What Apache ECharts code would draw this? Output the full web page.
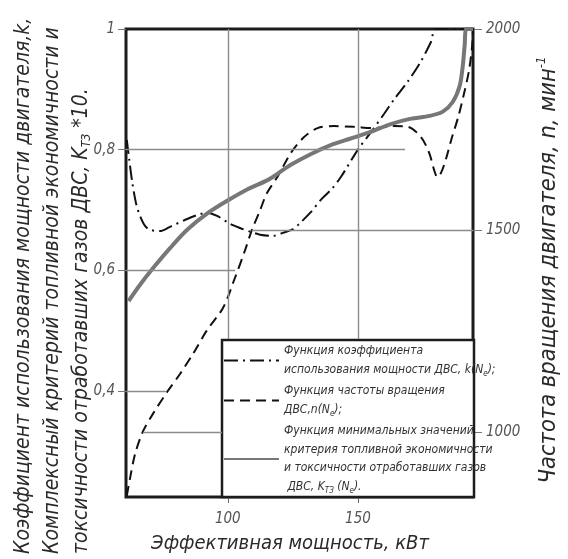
<!DOCTYPE html>
<html>
<head>
<meta charset="utf-8">
<script src="https://cdn.jsdelivr.net/npm/echarts@6/dist/echarts.min.js"></script>
<style>html,body{margin:0;padding:0;background:#fff}#c{width:568px;height:559px}</style>
</head>
<body>
<div id="c"></div>
<script>
// ---- data ----
const xTicks = [100, 150];
const leftTicks = [0.4, 0.6, 0.8, 1];
const rightTicks = [1000, 1500, 2000];
const xRange = [60.9, 194.2];
const leftRange = [0.224, 1];
const rightRange = [838, 2000];

// k(Ne) – power utilisation coefficient (left axis)
const kX = [61.2, 62.1, 63.3, 64.8, 66.3, 68.3, 70.2, 74, 77.8, 84.4, 89.4, 92.4, 95.9, 100.9, 104.7, 108.6, 112.4, 117.4, 121.2, 125.1, 127.7, 131.6, 136, 140, 143.5, 150, 155, 160, 164, 169, 174, 178, 180, 194.2];
const kY = [0.816, 0.785, 0.746, 0.71, 0.69, 0.673, 0.667, 0.665, 0.672, 0.685, 0.693, 0.695, 0.69, 0.677, 0.67, 0.664, 0.659, 0.657, 0.662, 0.668, 0.678, 0.695, 0.718, 0.735, 0.755, 0.8, 0.829, 0.859, 0.884, 0.912, 0.945, 0.978, 1.0, 1.0];

// n(Ne) – engine speed, rpm (right axis)
const nX = [61.2, 62.5, 64.4, 67.5, 71.3, 76.6, 81.7, 86.7, 91.9, 98.2, 102.8, 106.6, 109.2, 112.4, 115, 119.1, 124.2, 129.2, 134.5, 140.8, 148.5, 156.2, 163.9, 169.3, 174.3, 177.4, 179.3, 180.5, 182, 183.9, 185.8, 188.5, 190.8, 192.7, 193.9, 194.2];
const nY = [841, 886, 945, 1002, 1045, 1098, 1144, 1194, 1251, 1308, 1383, 1450, 1500, 1550, 1592, 1633, 1692, 1731, 1754, 1759, 1757, 1754, 1759, 1757, 1731, 1692, 1649, 1632, 1644, 1679, 1724, 1781, 1841, 1898, 1960, 2000];

// K_T3(Ne) – complex criterion *10 (left axis)
const ktX = [61.9, 66.3, 71.4, 77.9, 84.4, 92.4, 100.1, 107.4, 115.1, 118.8, 123.9, 131.6, 139.3, 146.9, 154.6, 162.3, 170, 177.6, 182.6, 186.4, 189.1, 190.3, 191, 191.7, 194.2];
const ktY = [0.549, 0.576, 0.604, 0.637, 0.667, 0.695, 0.716, 0.734, 0.749, 0.759, 0.774, 0.792, 0.807, 0.818, 0.829, 0.842, 0.851, 0.856, 0.863, 0.879, 0.906, 0.94, 0.973, 1.0, 1.0];

// reading guide lines [x1, y1, x2, y2]
const leftGuides = [[60.9, 0.8, 168.1, 0.8], [60.9, 0.6, 102.8, 0.6], [60.9, 0.4, 76.2, 0.4], [100, 1, 100, 0.486], [150, 1, 150, 0.486]];
const rightGuides = [[109.2, 1500, 194.2, 1500], [67.5, 1000, 97.8, 1000]];

const seriesNames = [
  'Функция коэффициента\nиспользования мощности ДВС, k(N{sub|e});',
  'Функция частоты вращения\nДВС,n(N{sub|e});',
  'Функция минимальных значений\nкритерия топливной экономичности\nи токсичности отработавших газов\n ДВС, K{sub|ТЗ} (N{sub|e}).'
];

const FONT = '"DejaVu Sans Condensed", "Liberation Sans Narrow", sans-serif';
const zip = (a, b) => a.map((v, i) => [v, b[i]]);
const guideData = g => g.map(s => [{coord: [s[0], s[1]]}, {coord: [s[2], s[3]]}]);
const fmt = v => (v === 1 ? '1' : String(v).replace('.', ','));
const guideStyle = {symbol: 'none', silent: true, animation: false, label: {show: false},
  lineStyle: {color: '#8c8c8c', width: 1.4, type: 'solid'}, emphasis: {disabled: true}};
const tickFont = {color: '#555', fontFamily: FONT, fontStyle: 'italic', fontSize: 15};

const chart = echarts.init(document.getElementById('c'), null, {renderer: 'canvas'});
chart.setOption({
  animation: false,
  backgroundColor: '#fff',
  grid: {left: 126, top: 29, right: 95, bottom: 62, show: true, borderColor: '#1c1c1c', borderWidth: 3},
  xAxis: {
    type: 'value', min: xRange[0], max: xRange[1],
    axisLine: {show: false}, splitLine: {show: false},
    axisTick: {show: true, customValues: xTicks, length: 6, lineStyle: {color: '#666'}},
    axisLabel: Object.assign({customValues: xTicks, margin: 15}, tickFont)
  },
  yAxis: [{
    type: 'value', min: leftRange[0], max: leftRange[1],
    axisLine: {show: false}, splitLine: {show: false},
    axisTick: {show: true, customValues: leftTicks, length: 8, lineStyle: {color: '#777'}},
    axisLabel: Object.assign({customValues: leftTicks, margin: 11, formatter: fmt}, tickFont)
  }, {
    type: 'value', min: rightRange[0], max: rightRange[1], position: 'right',
    axisLine: {show: false}, splitLine: {show: false},
    axisTick: {show: true, customValues: rightTicks, length: 9, lineStyle: {color: '#777'}},
    axisLabel: Object.assign({customValues: rightTicks, margin: 13, formatter: v => String(v)}, tickFont)
  }],
  legend: {
    show: true, orient: 'vertical', left: 223, top: 342, padding: 0,
    itemWidth: 55, itemHeight: 14, itemGap: 3,
    itemStyle: {opacity: 0},
    formatter: name => name,
    textStyle: {fontFamily: FONT, fontStyle: 'italic', fontSize: 12, color: '#333', lineHeight: 18.5,
      rich: {sub: {fontSize: 8, fontFamily: FONT, fontStyle: 'italic', color: '#333', padding: [8, 0, 0, 0]}}},
    data: seriesNames.map(n => ({name: n}))
  },
  graphic: [
    {type: 'rect', z: 3, shape: {x: 222, y: 340, width: 252, height: 157},
      style: {fill: '#fff', stroke: '#1c1c1c', lineWidth: 2.5}},
    {type: 'text', x: 53, y: 554, rotation: Math.PI / 2, z: 5,
      style: {text: 'Коэффициент использования мощности двигателя,k,\nКомплексный критерий топливной экономичности и\nтоксичности отработавших газов ДВС, K{sub|ТЗ} *10.',
        fontFamily: FONT, fontStyle: 'italic', fontSize: 21, fill: '#2a2a2a', lineHeight: 29,
        align: 'left', verticalAlign: 'middle',
        rich: {sub: {fontSize: 12, fontFamily: FONT, fontStyle: 'italic', fill: '#2a2a2a', padding: [10, 0, 0, 0]}}}},
    {type: 'text', x: 549, y: 270, rotation: Math.PI / 2, z: 5,
      style: {text: 'Частота вращения двигателя, n, мин{sup|-1}',
        fontFamily: FONT, fontStyle: 'italic', fontSize: 23.5, fill: '#2a2a2a', lineHeight: 28,
        align: 'center', verticalAlign: 'middle',
        rich: {sup: {fontSize: 13, fontFamily: FONT, fontStyle: 'italic', fill: '#2a2a2a', verticalAlign: 'top', padding: [0, 0, 10, 0]}}}},
    {type: 'text', x: 290, y: 544, z: 5,
      style: {text: 'Эффективная мощность, кВт', fontFamily: FONT, fontStyle: 'italic', fontSize: 20,
        fill: '#2a2a2a', align: 'center', verticalAlign: 'middle'}}
  ],
  series: [{
    name: seriesNames[0], type: 'line', yAxisIndex: 0, data: zip(kX, kY),
    showSymbol: false, symbol: 'none', smooth: 0.3, z: 4,
    lineStyle: {color: '#111', width: 2, type: [14, 5, 2, 5]},
    itemStyle: {color: '#111'},
    markLine: Object.assign({data: guideData(leftGuides)}, guideStyle)
  }, {
    name: seriesNames[1], type: 'line', yAxisIndex: 1, data: zip(nX, nY),
    showSymbol: false, symbol: 'none', smooth: 0.3, z: 4,
    lineStyle: {color: '#111', width: 2, type: [10, 6]},
    itemStyle: {color: '#111'},
    markLine: Object.assign({data: guideData(rightGuides)}, guideStyle)
  }, {
    name: seriesNames[2], type: 'line', yAxisIndex: 0, data: zip(ktX, ktY),
    showSymbol: false, symbol: 'none', smooth: 0.3, z: 4,
    lineStyle: {color: '#777', width: 4},
    itemStyle: {color: '#777'}
  }]
});
</script>
</body>
</html>
